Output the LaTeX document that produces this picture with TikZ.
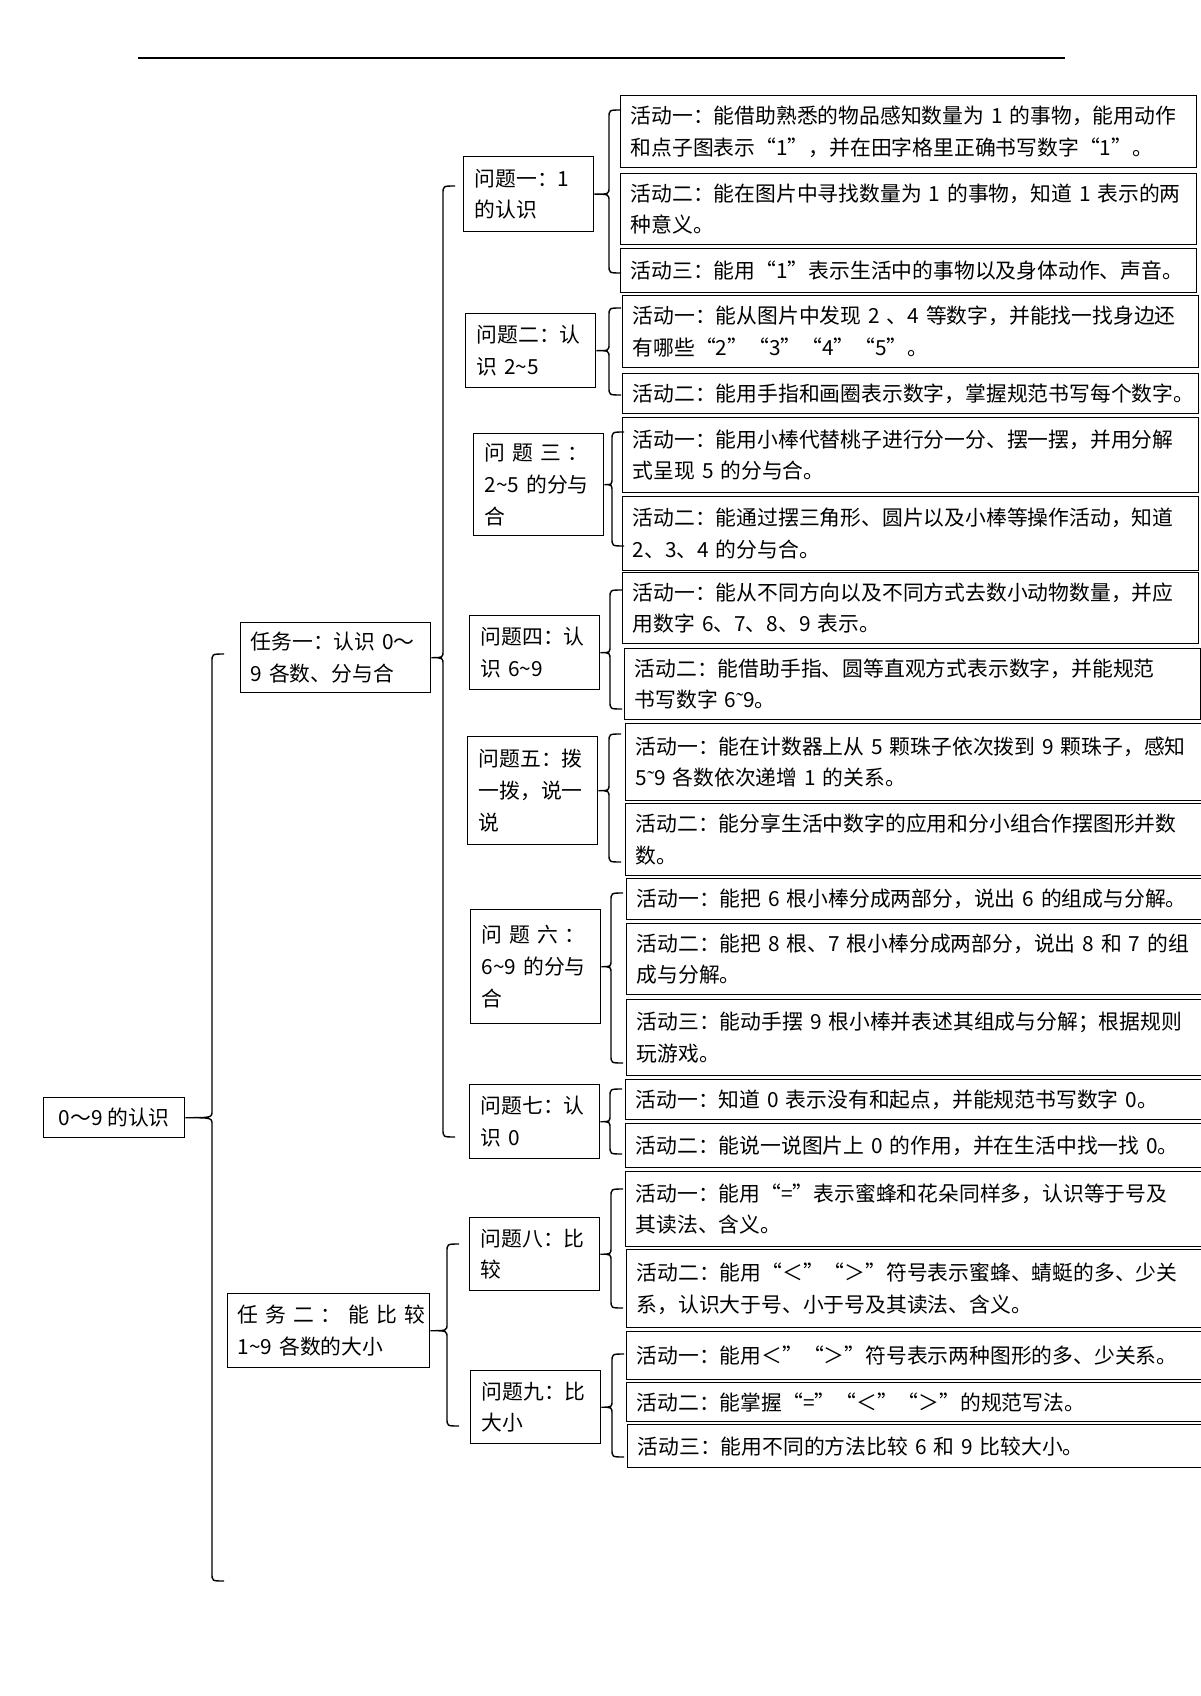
\documentclass[tikz,border=0pt]{standalone}
\usepackage{fontspec}
\setmainfont{Noto Sans CJK SC}
\newfontfamily\latinfont{Liberation Serif}
\usetikzlibrary{calc}
\newcommand\tld{\textasciitilde}
\newcommand\stld{{\latinfont ˜}}
\newcommand\brc[3]{%
  \draw ($(#2)+(12,0)$) .. controls (#2) .. ($(#2)+(0,8)$)
    -- ($(#2|-#1.east)+(0,-7)$) .. controls (#2|-#1.east) .. (#1.east)
    .. controls (#2|-#1.east) .. ($(#2|-#1.east)+(0,7)$)
    -- ($(#3)+(0,-8)$) .. controls (#3) .. ($(#3)+(12,0)$);}
\begin{document}
\begin{tikzpicture}[x=0.5pt,y=-0.5pt,line width=0.7pt,
    box/.style={draw,anchor=north west,align=left,inner ysep=0pt,
      font=\fontsize{10.4pt}{15.8pt}\selectfont},
    act/.style={box,text width=278pt,inner xsep=5pt},
    ques/.style={box,text width=54pt,inner xsep=5.5pt}]
  \useasboundingbox (0,0) rectangle (1200,1696);
  \draw[line width=0.8pt] (138,58) -- (1065,58);
  \draw
    (43,1097) node[box,align=center,minimum width=70.5pt,minimum height=20pt] (root) {0～9 的认识}
    (240,622) node[box,text width=85pt,inner xsep=5pt,minimum height=35pt] (t1) {任务一：认识 0～\\9 各数、分与合}
    (227,1293) node[box,text width=91pt,inner xsep=5pt,minimum height=37pt] (t2) {任~务~二~：~能~比~较\\1\tld9 各数的大小}
    (463,156) node[ques,minimum height=37.5pt] (q1) {问题一：1\\的认识}
    (465,313) node[ques,minimum height=37pt] (q2) {问题二：认\\识 2\tld5}
    (473,433) node[ques,minimum height=51pt] (q3) {问 题 三 ：\\2\tld5 的分与\\合}
    (469,615) node[ques,minimum height=37pt] (q4) {问题四：认\\识 6\tld9}
    (467,736) node[ques,minimum height=54pt] (q5) {问题五：拨\\一拨，说一\\说}
    (470,909) node[ques,minimum height=57pt] (q6) {问 题 六 ：\\6\tld9 的分与\\合}
    (469,1084) node[ques,minimum height=37pt] (q7) {问题七：认\\识 0}
    (469,1217) node[ques,minimum height=36.5pt] (q8) {问题八：比\\较}
    (470,1370) node[ques,minimum height=36.5pt] (q9) {问题九：比\\大小}
    (620,95) node[act,minimum height=36pt] (a11) {活动一：能借助熟悉的物品感知数量为 1 的事物，能用动作\\和点子图表示“1”，并在田字格里正确书写数字“1”。}
    (620,173) node[act,minimum height=35.5pt] (a12) {活动二：能在图片中寻找数量为 1 的事物，知道 1 表示的两\\种意义。}
    (620,248) node[act,minimum height=22pt] (a13) {活动三：能用“1”表示生活中的事物以及身体动作、声音。}
    (622,295) node[act,minimum height=36pt] (a21) {活动一：能从图片中发现 2 、4 等数字，并能找一找身边还\\有哪些“2”“3”“4”“5”。}
    (622,373) node[act,minimum height=20pt] (a22) {活动二：能用手指和画圈表示数字，掌握规范书写每个数字。}
    (622,417) node[act,minimum height=37.5pt] (a31) {活动一：能用小棒代替桃子进行分一分、摆一摆，并用分解\\式呈现 5 的分与合。}
    (622,496) node[act,minimum height=37pt] (a32) {活动二：能通过摆三角形、圆片以及小棒等操作活动，知道\\2、3、4 的分与合。}
    (622,572) node[act,minimum height=35.5pt] (a41) {活动一：能从不同方向以及不同方式去数小动物数量，并应\\用数字 6、7、8、9 表示。}
    (624,648) node[act,minimum height=35.5pt] (a42) {活动二：能借助手指、圆等直观方式表示数字，并能规范\\书写数字 6\stld9。}
    (625,723) node[act,minimum height=38.5pt] (a51) {活动一：能在计数器上从 5 颗珠子依次拨到 9 颗珠子，感知\\5\stld9 各数依次递增 1 的关系。}
    (625,803) node[act,minimum height=36pt] (a52) {活动二：能分享生活中数字的应用和分小组合作摆图形并数\\数。}
    (626,878) node[act,minimum height=20.5pt] (a61) {活动一：能把 6 根小棒分成两部分，说出 6 的组成与分解。}
    (626,923) node[act,minimum height=35.5pt] (a62) {活动二：能把 8 根、7 根小棒分成两部分，说出 8 和 7 的组\\成与分解。}
    (626,999) node[act,minimum height=38pt] (a63) {活动三：能动手摆 9 根小棒并表述其组成与分解；根据规则\\玩游戏。}
    (625,1079) node[act,minimum height=20pt] (a71) {活动一：知道 0 表示没有和起点，并能规范书写数字 0。}
    (625,1123) node[act,minimum height=22pt] (a72) {活动二：能说一说图片上 0 的作用，并在生活中找一找 0。}
    (625,1171) node[act,minimum height=37.5pt] (a81) {活动一：能用“=”表示蜜蜂和花朵同样多，认识等于号及\\其读法、含义。}
    (626,1249) node[act,minimum height=39pt] (a82) {活动二：能用“＜”“＞”符号表示蜜蜂、蜻蜓的多、少关\\系，认识大于号、小于号及其读法、含义。}
    (626,1331) node[act,minimum height=24pt] (a91) {活动一：能用＜”“＞”符号表示两种图形的多、少关系。}
    (626,1382) node[act,minimum height=19.5pt] (a92) {活动二：能掌握“=”“＜”“＞”的规范写法。}
    (627,1424) node[act,minimum height=21.5pt] (a93) {活动三：能用不同的方法比较 6 和 9 比较大小。};
  \begin{scope}
    \foreach \p/\x/\t/\b in {root/212/654/1581,t1/443/186/1137,t2/447/1244/1426,
        q1/609/110/273,q2/609/308/395,q3/612/432/546,q4/610/590/709,q5/609/734/862,
        q6/611/893/1063,q7/610/1089/1154,q8/611/1189/1308,q9/612/1354/1457}{
      \coordinate (\p top) at (\x,\t);
      \coordinate (\p bot) at (\x,\b);
      \brc{\p}{\p top}{\p bot}
    }
  \end{scope}
\end{tikzpicture}
\end{document}
